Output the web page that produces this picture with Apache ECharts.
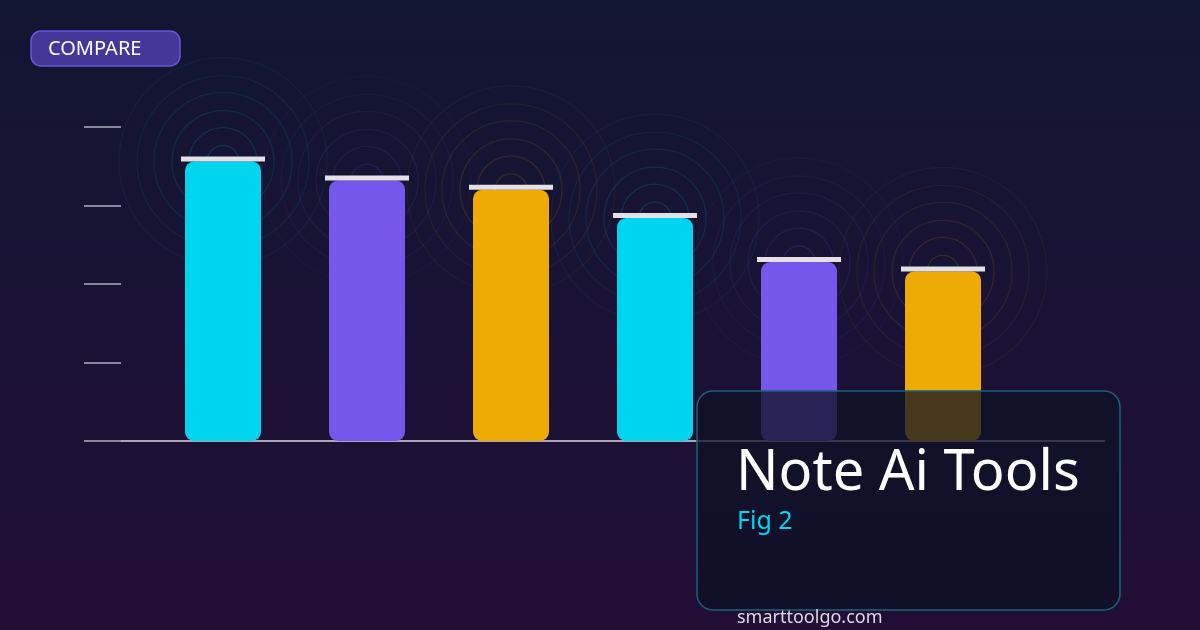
<!DOCTYPE html>
<html>
<head>
<meta charset="utf-8">
<script src="https://cdn.jsdelivr.net/npm/echarts@6/dist/echarts.min.js"></script>
<style>
html,body{margin:0;padding:0;background:#141530;}
#chart{width:1200px;height:630px;}
</style>
</head>
<body>
<div id="chart"></div>
<script>
// ---- data ----
const categories = ['Tool 1', 'Tool 2', 'Tool 3', 'Tool 4', 'Tool 5', 'Tool 6'];
const scores = [89, 83, 80, 71, 57, 54];
const yTicks = [0, 25, 50, 75, 100];
const titleText = 'Note Ai Tools';
const subtitleText = 'Fig 2';
const badgeText = 'COMPARE';
const footerText = 'smarttoolgo.com';

// ---- styles ----
const barColors = ['#00d5f0', '#7657ec', '#eeaa05', '#00d5f0', '#7657ec', '#eeaa05'];
const ringRgb = ['0,213,240', '118,87,236', '238,170,5', '0,213,240', '118,87,236', '238,170,5'];
const ringRadii = [16, 34, 51, 69, 86, 104];
const ringAlpha = [0.17, 0.14, 0.12, 0.1, 0.08, 0.06];

const chart = echarts.init(document.getElementById('chart'), null, {renderer: 'canvas'});

const ringSeries = ringRadii.map((r, k) => ({
  type: 'scatter',
  silent: true,
  z: 1,
  symbol: 'circle',
  symbolSize: r * 2,
  data: scores.map((v, i) => ({
    value: v,
    itemStyle: {opacity: 1, color: 'rgba(0,0,0,0)', borderWidth: 1.3, borderColor: 'rgba(' + ringRgb[i] + ',' + ringAlpha[k] + ')'}
  })),
  animation: false
}));

const font = '"Noto Sans", "Open Sans", sans-serif';

chart.setOption({
  backgroundColor: {
    type: 'linear', x: 0, y: 0, x2: 0, y2: 1,
    colorStops: [{offset: 0, color: '#111631'}, {offset: 1, color: '#220e37'}]
  },
  animation: false,
  grid: {left: 151, width: 864, top: 127, bottom: 189},
  xAxis: {
    type: 'category',
    data: categories,
    axisLine: {show: false},
    axisTick: {show: false},
    axisLabel: {show: false}
  },
  yAxis: {
    type: 'value',
    min: yTicks[0],
    max: yTicks[yTicks.length - 1],
    interval: yTicks[1] - yTicks[0],
    offset: 30,
    axisLine: {show: false},
    axisTick: {show: true, length: 37, lineStyle: {color: '#8a8699', width: 2}},
    axisLabel: {show: false},
    splitLine: {show: false}
  },
  series: [
    ...ringSeries,
    {
      type: 'bar',
      z: 3,
      barWidth: 76,
      data: scores.map((v, i) => ({value: v, itemStyle: {color: barColors[i], borderRadius: 9}}))
    },
    {
      type: 'scatter',
      z: 4,
      silent: true,
      symbol: 'rect',
      symbolSize: [84, 5],
      symbolOffset: [0, -2.5],
      itemStyle: {color: '#e2e1e8', opacity: 1},
      data: scores
    }
  ],
  graphic: [
    {type: 'line', z: 0, zlevel: 0, shape: {x1: 120, y1: 441, x2: 1105, y2: 441}, style: {stroke: '#aaa6b6', lineWidth: 2}},
    {type: 'rect', z: 10, shape: {x: 31, y: 31, width: 149, height: 35, r: 10},
      style: {fill: '#45369a', stroke: '#6a55e0', lineWidth: 1.5}},
    {type: 'text', z: 11, x: 48, y: 49, style: {text: badgeText, fill: '#ffffff', font: '20px ' + font, verticalAlign: 'middle'}},
    {type: 'rect', z: 10, shape: {x: 697, y: 391, width: 423, height: 219, r: 16},
      style: {fill: 'rgba(13,17,38,0.75)', stroke: '#1a6378', lineWidth: 1.5}},
    {type: 'text', z: 11, x: 736, y: 474, style: {text: titleText, fill: '#ffffff', font: '56px ' + font, verticalAlign: 'middle'}},
    {type: 'text', z: 11, x: 737, y: 522, style: {text: subtitleText, fill: '#00d5f0', font: '25px ' + font, verticalAlign: 'middle'}},
    {type: 'text', z: 11, x: 737, y: 618, style: {text: footerText, fill: '#dcdae4', font: '18px ' + font, verticalAlign: 'middle'}}
  ]
});
</script>
</body>
</html>
